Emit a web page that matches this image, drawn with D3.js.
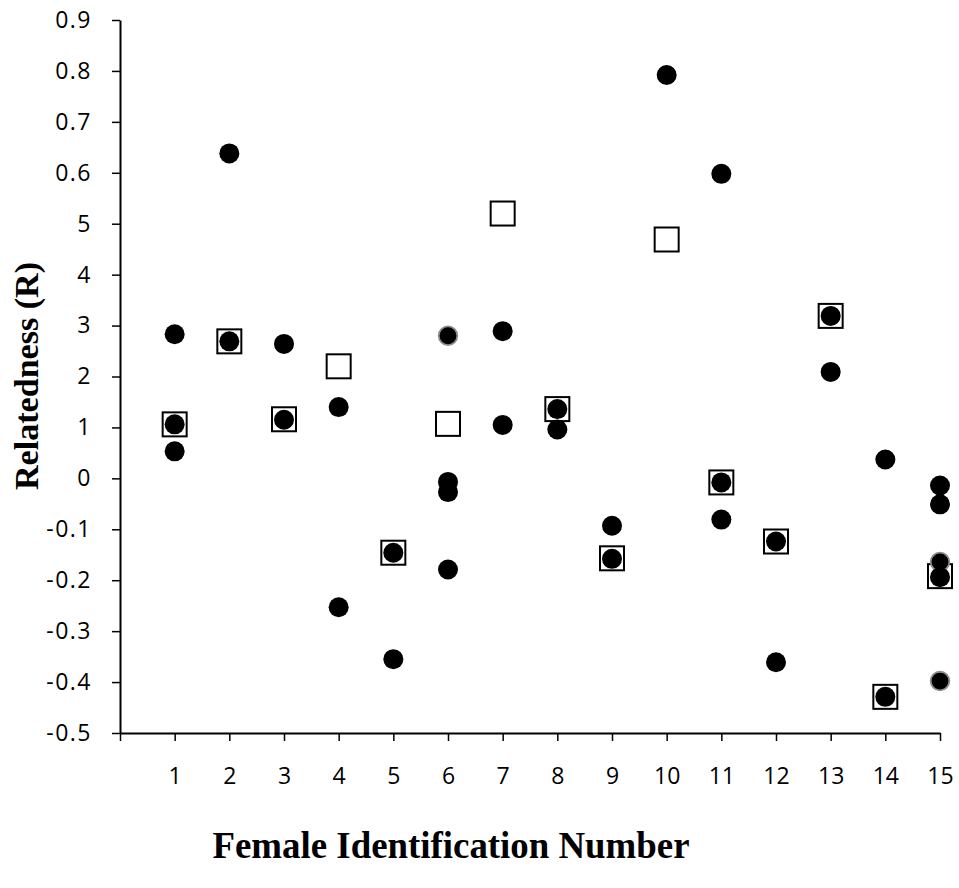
<!DOCTYPE html>
<html>
<head>
<meta charset="utf-8">
<script src="https://cdn.jsdelivr.net/npm/d3@7"></script>
<style>
  html, body { margin: 0; padding: 0; background: #fff; }
  svg { display: block; }
  .tk text { font-family: 'Open Sans', sans-serif; font-size: 23px; fill: #000; }
</style>
</head>
<body>
<svg id="chart" width="959" height="888"></svg>
<script>
// Female identification numbers (x categories)
const females = [1,2,3,4,5,6,7,8,9,10,11,12,13,14,15];
const xTickValues = [0,1,2,3,4,5,6,7,8,9,10,11,12,13,14,15];
const yTickValues = [-0.5,-0.4,-0.3,-0.2,-0.1,0,0.1,0.2,0.3,0.4,0.5,0.6,0.7,0.8,0.9];

// Open squares: one value per female
const squareValues = [0.106, 0.269, 0.116, 0.220, -0.146, 0.107, 0.520, 0.136, -0.157, 0.469, -0.008, -0.124, 0.319, -0.429, -0.192];

// Filled black circles: [female, relatedness]
const circleFemale = [1,1,1, 2,2, 3,3, 4,4, 5,5, 6,6,6, 7,7, 8,8, 9,9, 10, 11,11,11, 12,12, 13,13, 14,14, 15,15,15];
const circleValues = [0.283,0.106,0.053, 0.638,0.269, 0.264,0.115, 0.140,-0.253, -0.146,-0.355, -0.007,-0.027,-0.179, 0.289,0.105, 0.136,0.096, -0.093,-0.158, 0.792, 0.598,-0.008,-0.081, -0.124,-0.361, 0.319,0.209, 0.037,-0.429, -0.014,-0.051,-0.194];

// Filled circles with grey rim: [female, relatedness]
const greyFemale = [6, 15, 15];
const greyValues = [0.280, -0.164, -0.398];

const svg = d3.select("#chart");

const x = d3.scaleLinear().domain([0, 15]).range([120, 940]);
const y = d3.scaleLinear().domain([-0.5, 0.9]).range([733, 20]);

const fmt = v => {
  const r = Math.round(v * 10) / 10;
  if (r === 0) return "0";
  return (r < 0 ? "-" : "") + Math.abs(r).toFixed(1);
};

// Y axis
const yAxis = svg.append("g")
  .attr("class", "tk")
  .attr("transform", `translate(${x(0)},0)`)
  .call(d3.axisLeft(y).tickValues(yTickValues).tickSize(8).tickSizeOuter(0).tickPadding(20).tickFormat(fmt));
yAxis.attr("font-size", null).attr("font-family", null);
yAxis.select(".domain").attr("stroke", "#000").attr("stroke-width", 2);
yAxis.selectAll(".tick line").attr("stroke", "#000").attr("stroke-width", 1.5);
yAxis.selectAll(".tick text").attr("fill", "#000").attr("letter-spacing", "1.5");

// X axis
const xAxis = svg.append("g")
  .attr("class", "tk")
  .attr("transform", `translate(0,${y(-0.5)})`)
  .call(d3.axisBottom(x).tickValues(xTickValues).tickSize(8).tickSizeOuter(0).tickPadding(27)
    .tickFormat(d => d === 0 ? "" : String(d)));
xAxis.attr("font-size", null).attr("font-family", null);
xAxis.select(".domain").attr("stroke", "#000").attr("stroke-width", 2);
xAxis.selectAll(".tick line").attr("stroke", "#000").attr("stroke-width", 1.5);
xAxis.selectAll(".tick text").attr("fill", "#000");

// Y axis title on white box (covers part of tick labels as in original)
svg.append("rect").attr("x", 0).attr("y", 190).attr("width", 77).attr("height", 275).attr("fill", "#fff");
svg.append("text")
  .attr("transform", "translate(38,376) rotate(-90)")
  .attr("text-anchor", "middle")
  .style("font-family", "'Liberation Serif', 'Times New Roman', serif")
  .style("font-weight", "bold")
  .style("font-size", "34px")
  .attr("textLength", 228)
  .attr("lengthAdjust", "spacingAndGlyphs")
  .text("Relatedness (R)");

// X axis title
svg.append("text")
  .attr("x", 451).attr("y", 858)
  .attr("text-anchor", "middle")
  .style("font-family", "'Liberation Serif', 'Times New Roman', serif")
  .style("font-weight", "bold")
  .style("font-size", "38px")
  .attr("textLength", 477)
  .attr("lengthAdjust", "spacingAndGlyphs")
  .text("Female Identification Number");

// Squares
const sq = 24;
svg.append("g").selectAll("rect")
  .data(females.map((f, i) => ({f, v: squareValues[i]})))
  .join("rect")
  .attr("x", d => x(d.f) - sq / 2)
  .attr("y", d => y(d.v) - sq / 2)
  .attr("width", sq).attr("height", sq)
  .attr("fill", "#fff").attr("stroke", "#000").attr("stroke-width", 2);

// Grey-rimmed circles
svg.append("g").selectAll("circle")
  .data(greyFemale.map((f, i) => ({f, v: greyValues[i]})))
  .join("circle")
  .attr("cx", d => x(d.f)).attr("cy", d => y(d.v))
  .attr("r", 9.3)
  .attr("fill", "#000").attr("stroke", "#8c8c8c").attr("stroke-width", 1.8);

// Black circles
svg.append("g").selectAll("circle")
  .data(circleFemale.map((f, i) => ({f, v: circleValues[i]})))
  .join("circle")
  .attr("cx", d => x(d.f)).attr("cy", d => y(d.v))
  .attr("r", 10)
  .attr("fill", "#000");
</script>
</body>
</html>
